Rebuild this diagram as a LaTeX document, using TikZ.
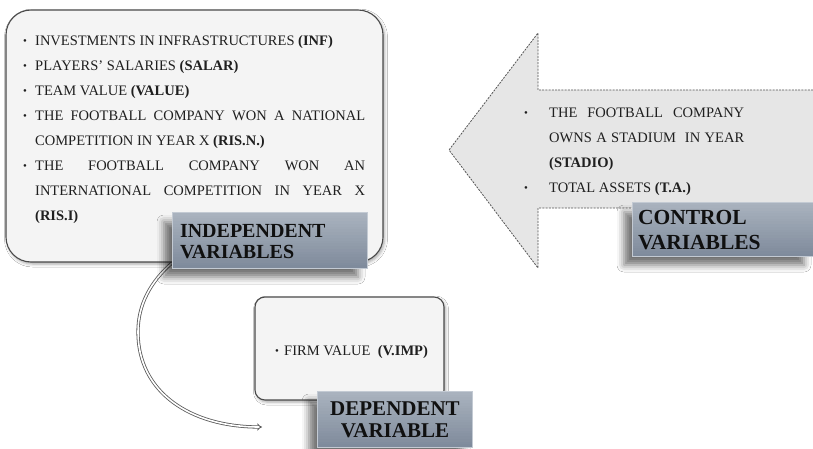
\documentclass[tikz,border=0pt]{standalone}
\usepackage{fontspec}
\setmainfont{Liberation Serif}
\usepackage{graphicx}
\usetikzlibrary{arrows.meta,shadows.blur,backgrounds,calc}
\definecolor{txt}{HTML}{1F1F1F}
\definecolor{labtxt}{HTML}{101010}
\definecolor{labtop}{HTML}{A9B2BE}
\definecolor{labbot}{HTML}{7D899A}
\definecolor{labedge}{HTML}{C3CAD3}
\definecolor{boxfill}{HTML}{F4F4F4}
\definecolor{boxedge}{HTML}{4A4A4A}
\definecolor{arrowfill}{HTML}{E6E6E6}
\definecolor{dashcol}{HTML}{555555}
\newcommand\bitem[2]{\par\hangindent=#1\hangafter=1\noindent\makebox[#1][l]{\raisebox{0.5pt}{\scalebox{0.75}{•}}}#2\par}
\newcommand\labelgrad[1]{%
  \foreach \k in {0,...,19}{%
    \pgfmathtruncatemacro\pc{\k*5}%
    \fill[labbot!\pc!labtop] ($(#1.north west)!\k/20!(#1.south west)$) rectangle ($(#1.north east)!\k/20+0.06!(#1.south east)$);
  }%
  \draw[labedge, line width=0.8pt] (#1.north west) rectangle (#1.south east);}
\begin{document}
\begin{tikzpicture}[x=1pt,y=-1pt,
  roundpanel/.style={draw=boxedge, line width=1.1pt, fill=boxfill, rounded corners=#1,
    blur shadow={shadow xshift=1.5pt, shadow yshift=-2pt, shadow blur radius=3pt, shadow opacity=35}},
  varlabel/.style={fill=labbot, inner sep=0pt,
    blur shadow={shadow xshift=-9pt, shadow yshift=-9pt, shadow blur radius=7pt, shadow opacity=55}},
  labeltext/.style={inner sep=0pt, text=labtxt},
  bodytext/.style={inner sep=0pt, text=txt, align=justify, font=\fontsize{14.5}{25}\selectfont},
  conn/.style={draw=black!65, double=white, double distance=1.6pt, line width=0.8pt, -{Implies[scale=1.2]}},
  dashedge/.style={draw=dashcol, line width=0.8pt, dash pattern=on 2pt off 1.2pt},
]
\useasboundingbox (0,0) rectangle (813,449);

% control arrow
\fill[arrowfill] (813,90) -- (538,90) -- (538,33) -- (449,150) -- (538,268) -- (538,208) -- (813,208) -- cycle;
\draw[dashedge] (813,90) -- (538,90) -- (538,33) -- (449,150) -- (538,268) -- (538,208) -- (813,208);

% independent panel
\node[roundpanel=25pt, minimum width=377pt, minimum height=252pt] (indbox) at (194.5,136) {};
\node[bodytext, text width=342pt, anchor=north west] (indtext) at (23,20) {%
\bitem{12pt}{INVESTMENTS IN INFRASTRUCTURES \textbf{(INF)}}%
\bitem{12pt}{PLAYERS’ SALARIES \textbf{(SALAR)}}%
\bitem{12pt}{TEAM VALUE \textbf{(VALUE)}}%
\bitem{12pt}{THE FOOTBALL COMPANY WON A NATIONAL\linebreak COMPETITION IN YEAR X \textbf{(RIS.N.)}}%
\bitem{12pt}{THE FOOTBALL COMPANY WON AN\linebreak INTERNATIONAL COMPETITION IN YEAR X\linebreak \textbf{(RIS.I)}}};

% dependent panel
\node[roundpanel=10pt, minimum width=189pt, minimum height=103pt] (depbox) at (349.5,348.5) {};
\node[inner sep=0pt, text=txt, font=\fontsize{14.5}{25}\selectfont, anchor=west] (deptext) at (275,352)
  {\makebox[9pt][l]{\raisebox{0.5pt}{\scalebox{0.75}{•}}}FIRM VALUE~~\textbf{(V.IMP)}};

% control text
\node[bodytext, text width=220pt, anchor=north west] (ctrltext) at (524,92) {%
\bitem{25pt}{THE FOOTBALL COMPANY\linebreak OWNS A STADIUM~ IN YEAR\linebreak \textbf{(STADIO)}}%
\bitem{25pt}{TOTAL ASSETS \textbf{(T.A.)}}};

% labels
\node[varlabel, minimum width=194pt, minimum height=55pt] (indlab) at (270,240.5) {};
\labelgrad{indlab}
\node[labeltext, text width=180pt, align=left, font=\bfseries\fontsize{20}{21}\selectfont]
  (indlabtxt) at ([yshift=-1.5pt]indlab.center) {INDEPENDENT\\VARIABLES};
\node[varlabel, minimum width=180pt, minimum height=53pt] (ctrllab) at (723,229.5) {};
\labelgrad{ctrllab}
\node[labeltext, text width=170pt, align=left, font=\bfseries\fontsize{21.5}{25}\selectfont]
  (ctrllabtxt) at ([yshift=-0.5pt]ctrllab.center) {CONTROL\\VARIABLES};
\node[varlabel, minimum width=154pt, minimum height=55pt] (deplab) at (395,419.5) {};
\labelgrad{deplab}
\node[labeltext, text width=144pt, align=center, font=\bfseries\fontsize{21}{22}\selectfont]
  (deplabtxt) at (deplab.center) {DEPENDENT\\VARIABLE};

% connector
\coordinate (curveend) at (262,427);
\begin{pgfonlayer}{background}
\fill[white] (0,0) rectangle (813,449);
\draw[conn] ([yshift=6pt]indlab.south west) .. controls (150,282) and (138,305) .. (138,332)
  .. controls (138,392) and (190,427) .. (curveend);
\end{pgfonlayer}
\end{tikzpicture}
\end{document}
